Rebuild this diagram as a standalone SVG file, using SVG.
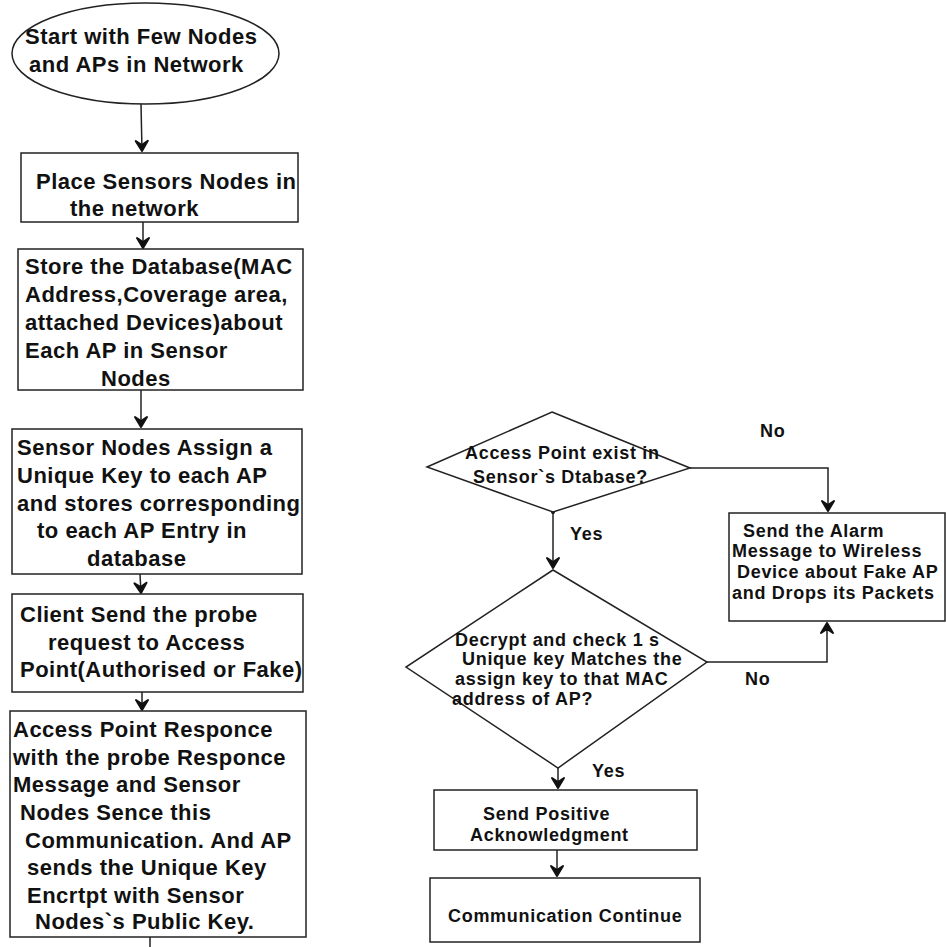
<svg xmlns="http://www.w3.org/2000/svg" width="946" height="947" viewBox="0 0 946 947">
<style>
.shape{fill:#fff;stroke:#222;stroke-width:1.5}
.conn{fill:none;stroke:#222;stroke-width:1.5}
.tl{font-family:"Liberation Sans",Arial,sans-serif;font-weight:bold;font-size:22px;letter-spacing:0.5px;fill:#111}
.tr{font-family:"Liberation Sans",Arial,sans-serif;font-weight:bold;font-size:18px;letter-spacing:0.7px;fill:#111}
</style>
<defs>
<marker id="arr" viewBox="-12 -8 13 16" markerWidth="13" markerHeight="16" refX="0" refY="0" orient="auto" markerUnits="userSpaceOnUse">
<path d="M0,0 L-10,-6 L-6,0 L-10,6 Z" fill="#111" stroke="#111" stroke-width="2" stroke-linejoin="round"/>
</marker>
</defs>
<rect width="946" height="947" fill="#fff"/>

<g id="connectors">
<line class="conn" x1="141" y1="104" x2="142" y2="151" marker-end="url(#arr)"/>
<line class="conn" x1="143" y1="222" x2="143" y2="248" marker-end="url(#arr)"/>
<line class="conn" x1="141" y1="390" x2="141" y2="427" marker-end="url(#arr)"/>
<line class="conn" x1="140" y1="574" x2="141" y2="593" marker-end="url(#arr)"/>
<line class="conn" x1="142" y1="692" x2="142" y2="710" marker-end="url(#arr)"/>
<line class="conn" x1="150" y1="937" x2="150" y2="947"/>
<line class="conn" x1="553" y1="512" x2="553" y2="568" marker-end="url(#arr)"/>
<circle cx="553" cy="512" r="2" fill="#111"/>
<polyline class="conn" points="690,468 828,468 828,511" marker-end="url(#arr)"/>
<polyline class="conn" points="707,662 827,662 827,623" marker-end="url(#arr)"/>
<line class="conn" x1="558" y1="768" x2="558" y2="788" marker-end="url(#arr)"/>
<line class="conn" x1="557" y1="850" x2="557" y2="876" marker-end="url(#arr)"/>
<text class="tr" x="570" y="540">Yes</text>
<text class="tr" x="760" y="437">No</text>
<text class="tr" x="745" y="685">No</text>
<text class="tr" x="592" y="777">Yes</text>
</g>

<g id="start">
<ellipse class="shape" cx="145.5" cy="53.5" rx="133.5" ry="50.5"/>
<text class="tl" x="25" y="44">Start with Few Nodes</text>
<text class="tl" x="29" y="72">and APs in Network</text>
</g>

<g id="place">
<rect class="shape" x="21" y="153" width="277" height="69"/>
<text class="tl" x="36" y="189">Place Sensors Nodes in</text>
<text class="tl" x="70" y="216">the network</text>
</g>

<g id="store">
<rect class="shape" x="18" y="249" width="285" height="141"/>
<text class="tl" x="25" y="274">Store the Database(MAC</text>
<text class="tl" x="25" y="302">Address,Coverage area,</text>
<text class="tl" x="25" y="330">attached Devices)about</text>
<text class="tl" x="25" y="358">Each AP in Sensor</text>
<text class="tl" x="101" y="386">Nodes</text>
</g>

<g id="assign">
<rect class="shape" x="12" y="429" width="290" height="145"/>
<text class="tl" x="17" y="455">Sensor Nodes Assign a</text>
<text class="tl" x="17" y="483">Unique Key to each AP</text>
<text class="tl" x="17" y="511">and stores corresponding</text>
<text class="tl" x="37" y="538">to each AP Entry in</text>
<text class="tl" x="87" y="566">database</text>
</g>

<g id="client">
<rect class="shape" x="12" y="594" width="291" height="98"/>
<text class="tl" x="20" y="622">Client Send the probe</text>
<text class="tl" x="48" y="650">request to Access</text>
<text class="tl" x="20" y="677">Point(Authorised or Fake)</text>
</g>

<g id="response">
<rect class="shape" x="10" y="711" width="296" height="226"/>
<text class="tl" x="13" y="737">Access Point Responce</text>
<text class="tl" x="13" y="765">with the probe Responce</text>
<text class="tl" x="13" y="792">Message and Sensor</text>
<text class="tl" x="20" y="820">Nodes Sence this</text>
<text class="tl" x="25" y="848">Communication. And AP</text>
<text class="tl" x="27" y="875">sends the Unique Key</text>
<text class="tl" x="27" y="903">Encrtpt with Sensor</text>
<text class="tl" x="35" y="929">Nodes`s Public Key.</text>
</g>

<g id="exist">
<polygon class="shape" points="552,412 690,468 553,512 427,467"/>
<text class="tr" x="465" y="459">Access Point exist in</text>
<text class="tr" x="473" y="483">Sensor`s Dtabase?</text>
</g>

<g id="alarm">
<rect class="shape" x="729" y="513" width="216" height="108"/>
<text class="tr" x="743" y="537">Send the Alarm</text>
<text class="tr" x="732" y="557">Message to Wireless</text>
<text class="tr" x="737" y="578">Device about Fake AP</text>
<text class="tr" x="732" y="599">and Drops its Packets</text>
</g>

<g id="decrypt">
<polygon class="shape" points="553,570 707,662 558,768 406,667"/>
<text class="tr" x="455" y="646">Decrypt and check 1 s</text>
<text class="tr" x="462" y="665">Unique key Matches the</text>
<text class="tr" x="455" y="685">assign key to that MAC</text>
<text class="tr" x="452" y="705">address of AP?</text>
</g>

<g id="ack">
<rect class="shape" x="434" y="790" width="263" height="60"/>
<text class="tr" x="483" y="820">Send Positive</text>
<text class="tr" x="470" y="841">Acknowledgment</text>
</g>

<g id="continue">
<rect class="shape" x="430" y="878" width="270" height="64"/>
<text class="tr" x="448" y="922">Communication Continue</text>
</g>
</svg>
